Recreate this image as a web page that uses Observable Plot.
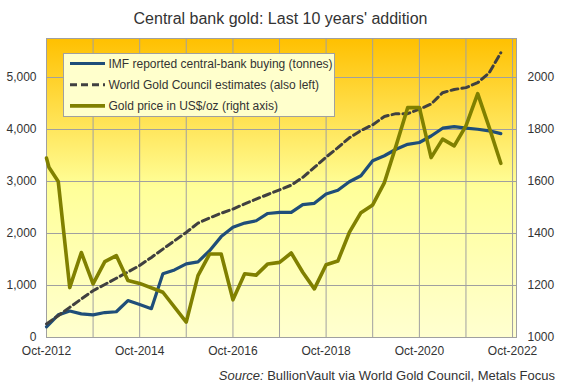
<!DOCTYPE html>
<html><head><meta charset="utf-8">
<script src="https://cdn.jsdelivr.net/npm/d3@7"></script>
<script src="https://cdn.jsdelivr.net/npm/@observablehq/plot@0.6"></script>
<style>
body{margin:0;background:#fff;font-family:"Liberation Sans",Arial,sans-serif;}
#wrap{position:relative;width:561px;height:386px;overflow:hidden;}
#title{box-sizing:border-box;height:30px;padding-top:8px;line-height:22px;font-size:16px;color:#333;text-align:center;}
#chart{height:334px;}
#caption{box-sizing:border-box;height:22px;padding-top:1px;line-height:22px;font-size:13px;color:#333;text-align:right;padding-right:6px;}
#legend{position:absolute;left:63px;top:53px;}
</style></head><body>
<div id="wrap">
<div id="title">Central bank gold: Last 10 years' addition</div>
<div id="chart"></div>
<div id="caption"><i>Source:</i> BullionVault via World Gold Council, Metals Focus</div>
<div id="legend"></div>
</div>
<script>
// Quarterly categories
const quarters = ["2012-10","2013-01","2013-04","2013-07","2013-10","2014-01","2014-04","2014-07","2014-10","2015-01",
  "2015-04","2015-07","2015-10","2016-01","2016-04","2016-07","2016-10","2017-01","2017-04","2017-07",
  "2017-10","2018-01","2018-04","2018-07","2018-10","2019-01","2019-04","2019-07","2019-10","2020-01",
  "2020-04","2020-07","2020-10","2021-01","2021-04","2021-07","2021-10","2022-01","2022-04","2022-07"];
// IMF reported central-bank buying (tonnes, cumulative)
const imfTonnes = [205,435,510,455,435,480,495,710,635,555,1225,1300,1415,1455,1670,1940,2120,2200,2245,2385,
  2405,2405,2555,2580,2760,2830,2995,3110,3400,3495,3620,3715,3750,3875,4025,4055,4025,4005,3975,3920];
// World Gold Council estimates (tonnes, cumulative)
const wgcTonnes = [262,420,580,740,900,1020,1140,1260,1385,1540,1700,1860,2021,2200,2300,2390,2470,2570,2662,2750,
  2840,2930,3080,3270,3470,3650,3840,3980,4090,4250,4305,4305,4390,4490,4708,4770,4805,4900,5090,5476];
// Gold price in US$/oz
const goldDates = ["2012-10-01","2012-10-20","2013-01-01","2013-04-01","2013-07-01","2013-10-01","2014-01-01","2014-04-01",
  "2014-07-01","2014-10-01","2015-04-01","2015-10-01","2016-01-01","2016-04-01","2016-07-01","2016-10-01","2017-01-01",
  "2017-04-01","2017-07-01","2017-10-01","2018-01-01","2018-04-01","2018-07-01","2018-10-01","2019-01-01","2019-04-01",
  "2019-07-01","2019-10-01","2020-01-01","2020-04-01","2020-07-01","2020-10-01","2021-01-01","2021-04-01","2021-07-01",
  "2021-10-01","2022-01-01","2022-04-01","2022-07-01"];
const goldPrice = [1690,1655,1600,1192,1327,1206,1292,1315,1219,1208,1174,1059,1238,1321,1321,1145,1245,1240,1283,1289,
  1325,1251,1187,1280,1294,1404,1480,1510,1596,1737,1884,1884,1692,1763,1737,1814,1938,1808,1670];
// Axis ticks
const leftTicks = [0,1000,2000,3000,4000,5000];
const rightTicks = [1000,1200,1400,1600,1800,2000];
const gridYears = ["2012-10-01","2013-10-01","2014-10-01","2015-10-01","2016-10-01","2017-10-01","2018-10-01","2019-10-01","2020-10-01","2021-10-01","2022-10-01"];
const labelYears = ["2012-10-01","2014-10-01","2016-10-01","2018-10-01","2020-10-01","2022-10-01"];

const leftMax = 5750, rightMin = 1000, rightMax = 2150;
const toLeft = p => (p - rightMin) / (rightMax - rightMin) * leftMax;
const fromLeft = t => rightMin + t / leftMax * (rightMax - rightMin);

const qData = quarters.map((q, i) => ({date: new Date(q + "-01"), imf: imfTonnes[i], wgc: wgcTonnes[i]}));
const gData = goldDates.map((d, i) => ({date: new Date(d), price: goldPrice[i]}));

const W = 561, H = 334, mL = 46, mR = 45, mT = 8, mB = 27;
const plot = Plot.plot({
  width: W, height: H, marginLeft: mL, marginRight: mR, marginTop: mT, marginBottom: mB,
  style: {fontSize: "12px", fontFamily: "'Liberation Sans', Arial, sans-serif", color: "#333", background: "transparent"},
  x: {type: "utc", domain: [new Date("2012-10-01"), new Date("2022-11-01")], axis: null},
  y: {domain: [0, leftMax], axis: null},
  marks: [
    Plot.ruleY(leftTicks, {stroke: "#a0a0a0", strokeWidth: 1}),
    Plot.ruleX(gridYears.map(d => new Date(d)), {stroke: "#a0a0a0", strokeWidth: 1}),
    Plot.frame({stroke: "#a0a0a0"}),
    Plot.axisY(leftTicks, {anchor: "left", tickSize: 0, tickPadding: 10, tickFormat: d3.format(","), label: null}),
    Plot.axisY(rightTicks.map(toLeft), {anchor: "right", tickSize: 0, tickPadding: 11, tickFormat: d => String(Math.round(fromLeft(d))), label: null}),
    Plot.axisX(labelYears.map(d => new Date(d)), {tickSize: 0, tickPadding: 9, tickFormat: d3.utcFormat("%b-%Y"), label: null}),
    Plot.line(qData, {x: "date", y: "imf", stroke: "#1f4e79", strokeWidth: 3.2}),
    Plot.line(qData, {x: "date", y: "wgc", stroke: "#404040", strokeWidth: 3, strokeDasharray: "7,4"}),
    Plot.line(gData, {x: "date", y: d => toLeft(d.price), stroke: "#808000", strokeWidth: 3.6})
  ]
});
// gradient background for plot area
const ns = "http://www.w3.org/2000/svg";
const defs = document.createElementNS(ns, "defs");
defs.innerHTML = `<linearGradient id="bg" x1="0" y1="0" x2="0" y2="1">
  <stop offset="0" stop-color="#ffc000"/><stop offset="0.5" stop-color="#ffff99"/><stop offset="1" stop-color="#ffffd0"/></linearGradient>`;
const rect = document.createElementNS(ns, "rect");
rect.setAttribute("x", mL); rect.setAttribute("y", mT);
rect.setAttribute("width", W - mL - mR); rect.setAttribute("height", H - mT - mB);
rect.setAttribute("fill", "url(#bg)");
const firstG = plot.querySelector("g");
plot.insertBefore(defs, firstG);
plot.insertBefore(rect, firstG);
document.getElementById("chart").appendChild(plot);

// Legend
const legendItems = [
  {label: "IMF reported central-bank buying (tonnes)", color: "#1f4e79", dash: null, w: 3.2},
  {label: "World Gold Council estimates (also left)", color: "#404040", dash: "7,4", w: 3},
  {label: "Gold price in US$/oz (right axis)", color: "#808000", dash: null, w: 3.6}
];
const lg = d3.select("#legend").append("svg").attr("width", 272).attr("height", 64);
lg.append("rect").attr("x", 0.5).attr("y", 0.5).attr("width", 271).attr("height", 63)
  .attr("fill", "#ffffcc").attr("stroke", "#a0a0a0");
legendItems.forEach((it, i) => {
  const y = 10.5 + i * 21.2;
  lg.append("line").attr("x1", 7).attr("x2", 42).attr("y1", y).attr("y2", y)
    .attr("stroke", it.color).attr("stroke-width", it.w).attr("stroke-dasharray", it.dash);
  lg.append("text").attr("x", 45.5).attr("y", y).attr("dy", "0.35em")
    .attr("font-size", 12).attr("font-family", "'Liberation Sans', Arial, sans-serif").attr("fill", "#333").text(it.label);
});
</script>
</body></html>
